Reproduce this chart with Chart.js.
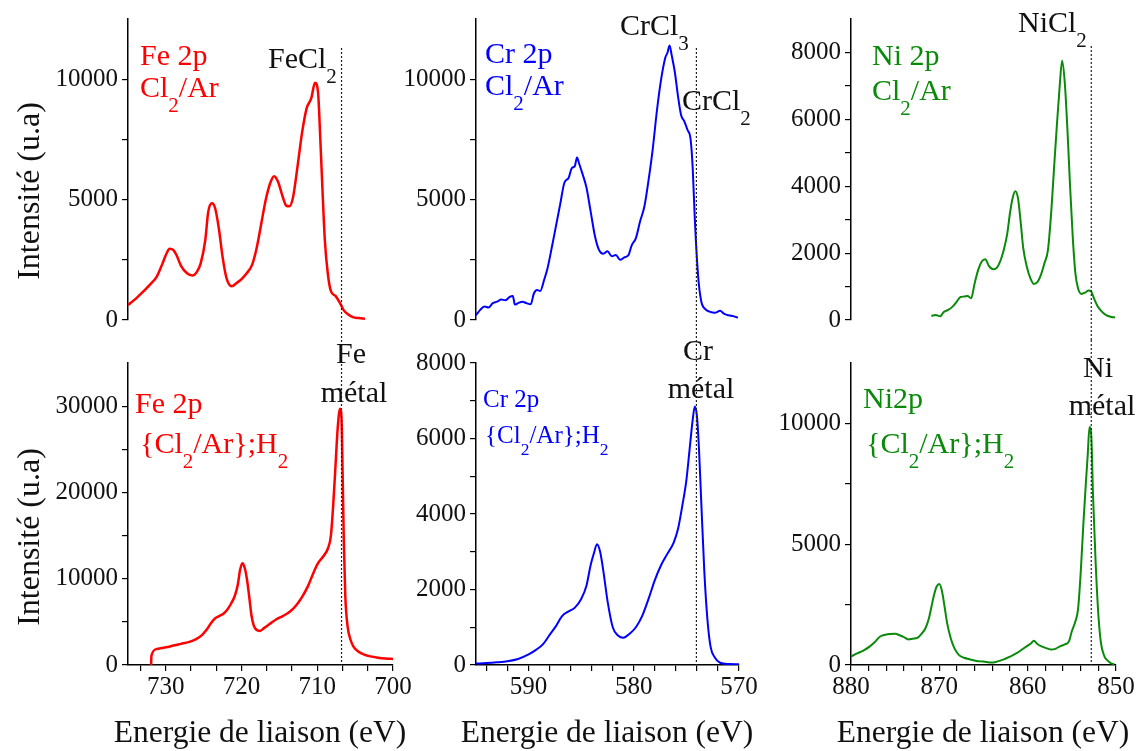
<!DOCTYPE html>
<html>
<head>
<meta charset="utf-8">
<script src="https://cdn.jsdelivr.net/npm/chart.js@4.4.0/dist/chart.umd.min.js"></script>
<style>
  body { margin: 0; background: #fff; }
  #wrap { position: relative; width: 1141px; height: 751px; overflow: hidden;
          font-family: "Liberation Serif", "Times New Roman", serif; }
  canvas { position: absolute; }
  .lbl { position: absolute; white-space: nowrap; line-height: 1; font-size: 30px; color: #111; }
  .lbl sub { font-size: 70%; vertical-align: -0.7em; line-height: 0; }
  .red { color: #ff0000; }
  .blue { color: #0000ff; }
  .green { color: #0a8a0a; }
  .ytitle { position: absolute; white-space: nowrap; font-size: 32px; line-height: 1; color: #111;
            transform: translate(-50%, -50%) rotate(-90deg); }
  .xtitle { position: absolute; white-space: nowrap; font-size: 31.5px; line-height: 1; color: #111;
            transform: translate(-50%, -50%); top: 732px; }
</style>
</head>
<body>
<div id="wrap">
  <canvas id="feTop" width="420" height="340" style="left:0;top:0"></canvas>
  <canvas id="crTop" width="370" height="340" style="left:400px;top:0"></canvas>
  <canvas id="niTop" width="371" height="340" style="left:770px;top:0"></canvas>
  <canvas id="feBot" width="420" height="411" style="left:0;top:340px"></canvas>
  <canvas id="crBot" width="370" height="411" style="left:400px;top:340px"></canvas>
  <canvas id="niBot" width="371" height="411" style="left:770px;top:340px"></canvas>

  <div class="ytitle" style="left:28px;top:191px">Intensité (u.a)</div>
  <div class="ytitle" style="left:28px;top:537px">Intensité (u.a)</div>
  <div class="xtitle" style="left:260px">Energie de liaison (eV)</div>
  <div class="xtitle" style="left:607px">Energie de liaison (eV)</div>
  <div class="xtitle" style="left:983px">Energie de liaison (eV)</div>

  <div class="lbl red" style="left:140px;top:40px">Fe 2p</div>
  <div class="lbl red" style="left:140px;top:72px">Cl<sub>2</sub>/Ar</div>
  <div class="lbl blue" style="left:485px;top:38px">Cr 2p</div>
  <div class="lbl blue" style="left:485px;top:70px">Cl<sub>2</sub>/Ar</div>
  <div class="lbl green" style="left:872px;top:40px">Ni 2p</div>
  <div class="lbl green" style="left:872px;top:75px">Cl<sub>2</sub>/Ar</div>

  <div class="lbl red" style="left:135px;top:388px">Fe 2p</div>
  <div class="lbl red" style="left:140px;top:428px">{Cl<sub>2</sub>/Ar};H<sub>2</sub></div>
  <div class="lbl blue" style="left:483px;top:386px;font-size:25px">Cr 2p</div>
  <div class="lbl blue" style="left:485px;top:422px;font-size:25px">{Cl<sub>2</sub>/Ar};H<sub>2</sub></div>
  <div class="lbl green" style="left:863px;top:383px">Ni2p</div>
  <div class="lbl green" style="left:866px;top:428px">{Cl<sub>2</sub>/Ar};H<sub>2</sub></div>

  <div class="lbl" style="left:268px;top:43px">FeCl<sub>2</sub></div>
  <div class="lbl" style="left:620px;top:10px">CrCl<sub>3</sub></div>
  <div class="lbl" style="left:682px;top:85px">CrCl<sub>2</sub></div>
  <div class="lbl" style="left:1018px;top:7px">NiCl<sub>2</sub></div>

  <div class="lbl" style="left:351px;top:338px;transform:translateX(-50%)">Fe</div>
  <div class="lbl" style="left:354px;top:377px;transform:translateX(-50%)">métal</div>
  <div class="lbl" style="left:698px;top:335px;transform:translateX(-50%)">Cr</div>
  <div class="lbl" style="left:701px;top:373px;transform:translateX(-50%)">métal</div>
  <div class="lbl" style="left:1098px;top:352px;transform:translateX(-50%)">Ni</div>
  <div class="lbl" style="left:1102px;top:390px;transform:translateX(-50%)">métal</div>
</div>

<script>
// ---- data (binding energy in eV, intensity in a.u.) ----
const feTopE = [735.0, 734.0, 733.0, 732.0, 731.2, 730.5, 729.9, 729.5, 729.0, 728.6, 728.0, 727.2, 726.5, 725.9, 725.4,
  724.8, 724.4, 723.9, 723.5, 723.0, 722.5, 722.0, 721.3, 720.6, 720.0, 719.3, 718.6, 718.0, 717.4, 716.8, 716.2,
  715.7, 715.2, 714.6, 714.1, 713.7, 713.2, 712.6, 712.0, 711.4, 710.8, 710.3, 709.9, 709.6, 709.3, 709.0, 708.6,
  708.2, 707.6, 707.0, 706.5, 706.0, 705.3, 704.5, 703.7];
const feTopI = [620, 880, 1180, 1500, 1800, 2300, 2770, 2960, 2900, 2700, 2250, 1940, 1850, 2000, 2350,
  3300, 4500, 4850, 4650, 3800, 2600, 1750, 1400, 1550, 1700, 1950, 2300, 3000, 4000, 5000, 5700,
  5970, 5750, 5150, 4750, 4720, 5100, 6400, 7800, 8800, 9200, 9850, 9450, 7500, 5300, 3300, 1900,
  1200, 1000, 700, 400, 250, 120, 80, 50];

const feBotE = [731.95, 731.9, 731.2, 730.0, 729.0, 728.0, 727.0, 726.0, 725.2, 724.6, 724.0, 723.5, 722.9, 722.4,
  721.9, 721.4, 720.9, 720.5, 720.2, 719.9, 719.6, 719.3, 719.0, 718.7, 718.4, 718.0, 717.6, 717.0, 716.2, 715.4,
  714.5, 713.6, 712.8, 712.0, 711.2, 710.5, 709.9, 709.2, 708.6, 708.2, 707.9, 707.6, 707.3, 707.0, 706.8, 706.65,
  706.5, 706.3, 706.0, 705.6, 705.2, 704.5, 703.8, 703.0, 702.0, 701.0, 700.0];
const feBotI = [0, 1100, 1850, 2050, 2250, 2450, 2650, 3000, 3500, 4100, 4900, 5400, 5700, 5950,
  6400, 7100, 8000, 9300, 11000, 11800, 11300, 10000, 8000, 5800, 4600, 4050, 3950, 4300, 4800, 5300,
  5700, 6200, 6900, 7900, 9200, 10700, 11800, 12600, 13500, 15000, 18500, 23000, 27500, 29700, 28600, 22000,
  14500, 8000, 4500, 2900, 2100, 1500, 1200, 1000, 850, 750, 700];

const crTopE = [595.0, 594.6, 594.2, 593.8, 593.4, 593.0, 592.6, 592.2, 591.8, 591.5, 591.3, 591.0, 590.6, 590.2,
  589.8, 589.5, 589.2, 588.9, 588.5, 588.2, 587.8, 587.4, 587.0, 586.6, 586.2, 585.9, 585.6, 585.4, 585.2, 584.9,
  584.5, 584.1, 583.7, 583.3, 582.9, 582.5, 582.1, 581.7, 581.3, 580.9, 580.5, 580.2, 579.8, 579.4, 579.0, 578.6,
  578.2, 577.8, 577.4, 577.0, 576.8, 576.6, 576.4, 576.1, 575.8, 575.5, 575.2, 574.9, 574.6, 574.4, 574.2, 573.9,
  573.6, 573.2, 572.8, 572.3, 571.8, 571.4, 571.0, 570.5, 570.1];
const crTopI = [200, 420, 560, 520, 700, 760, 850, 820, 960, 1000, 640, 700, 760, 700,
  650, 1100, 1250, 1200, 1700, 2150, 3000, 3900, 4800, 5700, 5900, 6300, 6400, 6750, 6500, 6100,
  5500, 4500, 3500, 2900, 2750, 2850, 2650, 2700, 2500, 2600, 2700, 3100, 3400, 4100, 4700, 5800,
  7100, 8700, 10000, 10900, 11100, 11400, 11000, 10300, 9300, 8500, 8250, 7900, 7500, 6300, 4200, 1900,
  800, 450, 350, 300, 380, 250, 200, 150, 100];

const crBotE = [595.0, 594.0, 593.0, 592.0, 591.0, 590.0, 589.3, 588.6, 588.0, 587.4, 586.8, 586.2, 585.6, 585.0,
  584.5, 584.1, 583.8, 583.5, 583.2, 582.9, 582.5, 582.0, 581.5, 581.0, 580.4, 579.8, 579.2, 578.6, 578.0, 577.4,
  576.8, 576.2, 575.8, 575.4, 575.0, 574.7, 574.4, 574.2, 574.0, 573.8, 573.6, 573.3, 573.0, 572.7, 572.3, 571.8,
  571.0, 570.0];
const crBotI = [40, 50, 70, 100, 160, 280, 400, 560, 800, 1030, 1300, 1420, 1520, 1750,
  2100, 2650, 2950, 3200, 3000, 2500, 1700, 1000, 780, 720, 830, 1000, 1300, 1750, 2250, 2650,
  2950, 3250, 3600, 4200, 4900, 5700, 6500, 6850, 6600, 5700, 4400, 2500, 1200, 480, 200, 60,
  25, 20];

const niTopE = [870.9, 870.4, 869.9, 869.5, 869.0, 868.5, 868.0, 867.6, 867.2, 866.8, 866.4, 866.0, 865.6, 865.2,
  864.8, 864.4, 863.9, 863.5, 863.1, 862.7, 862.3, 862.0, 861.7, 861.4, 861.1, 860.8, 860.5, 860.1, 859.7, 859.3,
  858.9, 858.5, 858.1, 857.7, 857.3, 857.0, 856.7, 856.4, 856.1, 855.8, 855.5, 855.2, 854.9, 854.6, 854.3, 853.9,
  853.5, 853.1, 852.8, 852.5, 852.1, 851.7, 851.3, 850.9, 850.5, 850.1];
const niTopI = [120, 150, 110, 240, 300, 400, 560, 690, 700, 720, 650, 1100, 1500, 1750,
  1820, 1620, 1520, 1560, 1760, 2100, 2600, 3200, 3650, 3850, 3650, 2950, 2150, 1600, 1250, 1080,
  1130, 1350, 1700, 2100, 3350, 4600, 5800, 6900, 7750, 7100, 5700, 4000, 2500, 1400, 950, 780,
  820, 880, 850, 650, 420, 280, 180, 120, 90, 80];

const niBotE = [880.0, 879.3, 878.6, 877.9, 877.3, 876.7, 876.1, 875.6, 875.0, 874.5, 874.0, 873.5, 873.0, 872.5,
  872.0, 871.6, 871.2, 870.9, 870.6, 870.3, 870.0, 869.7, 869.4, 869.1, 868.7, 868.3, 867.8, 867.2, 866.5, 865.8,
  865.0, 864.1, 863.4, 862.7, 862.0, 861.2, 860.6, 860.0, 859.6, 859.3, 858.9, 858.5, 857.9, 857.3, 856.8, 856.3,
  855.8, 855.3, 855.0, 854.6, 854.3, 854.0, 853.7, 853.4, 853.2, 853.0, 852.8, 852.6, 852.3, 852.0, 851.7, 851.3,
  851.0, 850.6, 850.2];
const niBotI = [350, 480, 600, 760, 950, 1180, 1250, 1280, 1290, 1230, 1150, 1060, 1090, 1120,
  1300, 1500, 1900, 2400, 2900, 3250, 3350, 3050, 2400, 1700, 1100, 700, 420, 300, 230, 170,
  140, 100, 150, 230, 350, 500, 650, 800, 900, 1000, 870, 780, 700, 640, 680, 780,
  850, 1000, 1400, 1800, 2300, 3800, 5800, 7600, 8700, 9850, 9500, 7000, 4200, 2100, 900, 350,
  200, 80, 30];

// reference lines (eV)
const feLine = 706.8, crLine = 574.05, niLine = 852.8;

// axis ranges / ticks
const feX = [700, 735], crX = [570, 595], niX = [850, 880];
const feXMinor = 10 / 3, crXMinor = 2, niXMinor = 2, xMajor = 10;

const FONT = '"Liberation Serif", "Times New Roman", serif';
const INK = '#111';

function isMajor(v, step) {
  return Math.abs(v / step - Math.round(v / step)) < 1e-6;
}

function tickList(min, max, step, major) {
  const out = [];
  const n = Math.round((max - min) / step);
  for (let i = 0; i <= n; i++) {
    const v = +(min + i * step).toFixed(6);
    if (v > max + 1e-9) break;
    if (i === n && !isMajor(v, major)) continue;
    out.push({ value: v });
  }
  return out;
}

// dotted vertical line at a given energy
const refLine = {
  id: 'refLine',
  afterDatasetsDraw(chart, args, opts) {
    if (opts.value == null) return;
    const x = chart.scales.x.getPixelForValue(opts.value);
    const ctx = chart.ctx;
    ctx.save();
    ctx.strokeStyle = '#222';
    ctx.lineWidth = 1.2;
    ctx.setLineDash([2, 2]);
    ctx.beginPath();
    ctx.moveTo(x, opts.from);
    ctx.lineTo(x, opts.to);
    ctx.stroke();
    ctx.restore();
  }
};

function panel(id, E, I, color, lw, xr, xMinor, yMax, yMinor, yMajor, yW, pad, bottomRow, line) {
  const xAxis = bottomRow ? {
    type: 'linear', min: xr[0], max: xr[1], reverse: true,
    afterFit: s => { s.height = 86; },
    afterBuildTicks: s => { s.ticks = tickList(xr[0], xr[1], xMinor, xMajor); },
    ticks: {
      autoSkip: false, maxRotation: 0, padding: 1, color: INK,
      font: { family: FONT, size: 25 },
      callback: v => isMajor(v, xMajor) ? String(Math.round(v)) : ''
    },
    grid: { display: true, drawOnChartArea: false, drawTicks: true, tickLength: 6, color: '#000', lineWidth: 1.2 },
    border: { display: true, color: '#000', width: 1.5 }
  } : { type: 'linear', min: xr[0], max: xr[1], reverse: true, display: false };

  return new Chart(document.getElementById(id), {
    type: 'line',
    data: {
      datasets: [{
        data: E.map((e, i) => ({ x: e, y: I[i] })),
        borderColor: color, borderWidth: lw, pointRadius: 0, fill: false,
        cubicInterpolationMode: 'monotone'
      }]
    },
    options: {
      responsive: false, animation: false, events: [],
      layout: { padding: pad },
      plugins: { legend: { display: false }, tooltip: { enabled: false }, refLine: line },
      scales: {
        x: xAxis,
        y: {
          min: 0, max: yMax,
          afterFit: s => { s.width = yW; },
          afterBuildTicks: s => { s.ticks = tickList(0, yMax, yMinor, yMajor); },
          ticks: {
            autoSkip: false, padding: 4, color: INK,
            font: { family: FONT, size: 25 },
            callback: v => isMajor(v, yMajor) ? String(Math.round(v)) : ''
          },
          grid: { display: true, drawOnChartArea: false, drawTicks: true, tickLength: 6, color: '#000', lineWidth: 1.2 },
          border: { display: true, color: '#000', width: 1.5 }
        }
      }
    },
    plugins: [refLine]
  });
}

// top row: Cl2/Ar
panel('feTop', feTopE, feTopI, '#ff0000', 2.5, feX, feXMinor, 12500, 2500, 5000, 128,
      { left: 0, right: 27, top: 18, bottom: 20 }, false, { value: feLine, from: 48, to: 340 });
panel('crTop', crTopE, crTopI, '#0000ff', 2, crX, crXMinor, 12500, 2500, 5000, 76,
      { left: 0, right: 31, top: 18, bottom: 20 }, false, { value: crLine, from: 48, to: 340 });
panel('niTop', niTopE, niTopI, '#0a8a0a', 2, niX, niXMinor, 9000, 1000, 2000, 81,
      { left: 0, right: 25, top: 16, bottom: 20 }, false, { value: niLine, from: 46, to: 340 });

// bottom row: {Cl2/Ar};H2
panel('feBot', feBotE, feBotI, '#ff0000', 2.5, feX, feXMinor, 35000, 5000, 10000, 128,
      { left: 0, right: 27, top: 23, bottom: 0 }, true, { value: feLine, from: 0, to: 325 });
panel('crBot', crBotE, crBotI, '#0000ff', 2, crX, crXMinor, 8000, 1000, 2000, 76,
      { left: 0, right: 31, top: 23, bottom: 0 }, true, { value: crLine, from: 0, to: 325 });
panel('niBot', niBotE, niBotI, '#0a8a0a', 2, niX, niXMinor, 12500, 2500, 5000, 81,
      { left: 0, right: 25, top: 23, bottom: 0 }, true, { value: niLine, from: 0, to: 325 });
</script>
</body>
</html>
